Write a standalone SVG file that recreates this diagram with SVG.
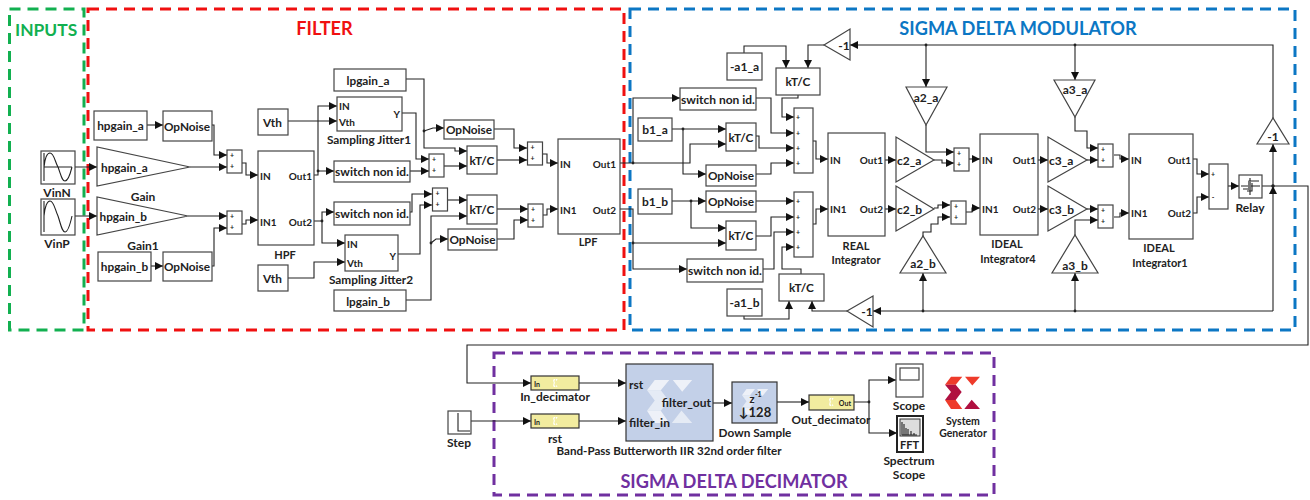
<svg xmlns="http://www.w3.org/2000/svg" width="1310" height="500" viewBox="0 0 1310 500">
<style>
text{font-family:Lato,"Liberation Sans",sans-serif;font-weight:700;font-size:12px;fill:#222}
.m{text-anchor:middle}.e{text-anchor:end}
.b{fill:#fff;stroke:#444;stroke-width:1.2}
.w{fill:none;stroke:#222;stroke-width:1.1}
.w path{marker-end:url(#a)}
.p{fill:none;stroke:#222;stroke-width:1.1}
.s{font-size:7px}
.f10{font-size:10px}
.f11{font-size:11px}
.f12{font-size:11.8px}
.t{font-size:18.2px}
.y{fill:#f2ec9f;stroke:#333;stroke-width:1.2}
.r{fill:none;stroke-width:3;stroke-dasharray:11 7}
.d{fill:#222}
.sb{fill:#c3d0e8;stroke:#333;stroke-width:1.2}
</style>
<defs>
<marker id="a" markerUnits="userSpaceOnUse" markerWidth="9" markerHeight="8" refX="8" refY="4" orient="auto"><path d="M0 0L8 4L0 8Z" fill="#111"/></marker>
<g id="lg"><path d="M0 7.7L6 0H17.3L10.7 7.7ZM0 23H10.7L17.3 32H6ZM20 0H35L27.3 8.7Z"/><path d="M0 7.7H10.700L16.700 15.300H6ZM0 23L6 15.300H16.700L10.700 23ZM19.300 32L26.700 22.700L35 32Z" opacity=".8"/></g>
<g id="sum"><rect class="b" width="15" height="23"/><text class="s m" x="5" y="8">+</text><text class="s m" x="5" y="19">+</text></g>
</defs>
<rect width="1310" height="500" fill="#fff"/>

<g id="regions">
<rect class="r" x="9.500" y="9" width="74.500" height="321" stroke="#12b050"/>
<rect class="r" x="88" y="9" width="536" height="321" stroke="#f01010"/>
<rect class="r" x="630" y="9" width="665" height="321" stroke="#0c77c4"/>
<rect class="r" x="494" y="353" width="500" height="142" stroke="#7030a0"/>
<text class="t" x="15" y="36" style="fill:#12b050;font-size:17.400px">INPUTS</text>
<text class="t m" x="324.500" y="35" style="fill:#f01010">FILTER</text>
<text class="t m" x="1018" y="35" style="fill:#0c77c4">SIGMA DELTA MODULATOR</text>
<text class="t m" x="734" y="488" style="fill:#7030a0">SIGMA DELTA DECIMATOR</text>
</g>

<g id="connectors">
<g class="w">
<path d="M147 125H163"/>
<path d="M212 125H214V155H227"/>
<path d="M190 167H227"/>
<path d="M58 167H97"/>
<path d="M44 216H97"/>
<path d="M188 216H227"/>
<path d="M151 266H163"/>
<path d="M212 266H214V228H227"/>
<path d="M242 163H246V175H258"/>
<path d="M242 224H246V220H258"/>
<path d="M314 175H318V171H334"/>
<path d="M318 171V106H337"/>
<path d="M288 121H337"/>
<path d="M314 221H322V212H334"/>
<path d="M322 221V243H345"/>
<path d="M288 278H314V262H345"/>
<path d="M406 79H424V148H455V151H467"/>
<path d="M424 131L433 128H444"/>
<path d="M402 113H416V159H429"/>
<path d="M410 171H429"/>
<path d="M444 166H467"/>
<path d="M494 129H514V148H527"/>
<path d="M497 160H527"/>
<path d="M543 154H547V163H558"/>
<path d="M410 212H412V194H432"/>
<path d="M398 254H420V205H432"/>
<path d="M448 200H467"/>
<path d="M406 300H431V216H467"/>
<path d="M431 243L436 239H448"/>
<path d="M497 209H528"/>
<path d="M497 239H514V220H528"/>
<path d="M543 215H547V209H558"/>
<path d="M620 163H690V144H726"/>
<path d="M633 163V98H680"/>
<path d="M672 129H726"/>
<path d="M683 129V174H706"/>
<path d="M620 209H633V269H687"/>
<path d="M633 243H726"/>
<path d="M672 201H706"/>
<path d="M691 201V228H726"/>
<path d="M756 98H771V133H794"/>
<path d="M798 95V98H782V117H794"/>
<path d="M756 136H759V148H794"/>
<path d="M756 174H771V163H794"/>
<path d="M756 201H794"/>
<path d="M756 236H771V217H794"/>
<path d="M763 269H774V232H794"/>
<path d="M801 274V269H782V247H794"/>
<path d="M813 141H816V159H828"/>
<path d="M813 224H816V209H828"/>
<path d="M744 53V46H786V68"/>
<path d="M824 45H808V68"/>
<path d="M744 316V319H789V301"/>
<path d="M847 311H812V301"/>
<path d="M885 160H896"/>
<path d="M885 209H896"/>
<path d="M1273 118V45H850"/>
<path d="M926 45V87"/>
<path d="M926 125V152H954"/>
<path d="M934 160H942V163H954"/>
<path d="M934 208H938V205H950"/>
<path d="M923 236V232H931V224H938V217H950"/>
<path d="M1273 186V144"/>
<path d="M1273 311V186"/>
<path d="M1273 311H873"/>
<path d="M923 311V273"/>
<path d="M969 159H980"/>
<path d="M966 212H972V208H980"/>
<path d="M1038 160H1048"/>
<path d="M1038 209H1048"/>
<path d="M1075 45V80"/>
<path d="M1075 117V131H1087V148H1098"/>
<path d="M1087 160H1098"/>
<path d="M1087 209H1098"/>
<path d="M1075 235V220H1098"/>
<path d="M1075 311V273"/>
<path d="M1114 155H1120V159H1129"/>
<path d="M1114 217H1120V213H1129"/>
<path d="M1193 159H1197V174H1209"/>
<path d="M1193 213H1197V197H1209"/>
<path d="M1228 186H1239"/>
<path d="M1262 186H1308V345H467V383H531"/>
<path d="M579 383H626"/>
<path d="M579 421H626"/>
<path d="M471 421H531"/>
<path d="M713 403H732"/>
<path d="M777 402H809"/>
<path d="M854 402H869V380H896"/>
<path d="M869 402V433H897"/>
</g>
<g class="d">
<circle cx="633" cy="163" r="1.400"/><circle cx="683" cy="129" r="1.400"/><circle cx="633" cy="243" r="1.400"/><circle cx="691" cy="201" r="1.400"/><circle cx="926" cy="45" r="1.400"/><circle cx="1075" cy="45" r="1.400"/><circle cx="923" cy="311" r="1.400"/><circle cx="1075" cy="311" r="1.400"/><circle cx="1273" cy="186" r="1.800"/><circle cx="869" cy="402" r="1.400"/><circle cx="318" cy="171" r="1.400"/><circle cx="322" cy="221" r="1.400"/><circle cx="424" cy="131" r="1.400"/><circle cx="431" cy="243" r="1.400"/>
</g>
</g>

<g id="VinN"><rect class="b" x="41" y="151" width="34" height="33"/><path class="p" d="M44 153V181M44 167H72M44 167C45 158 47 153 50 153C54 153 55 162 58 167C61 175 62 181 65 181C68 181 70 175 72 167"/><text class="m" x="57" y="197">VinN</text></g>
<g id="VinP"><rect class="b" x="41" y="199" width="34" height="36"/><path class="p" d="M44 201V232M44 216C45 207 47 201 50 201C54 201 55 210 58 216C61 225 62 232 65 232C68 232 70 225 72 216"/><text class="m" x="57" y="248">VinP</text></g>
<g id="hpgain_a_c"><rect class="b" x="94" y="111" width="53" height="29"/><text class="m f12" x="120.500" y="130">hpgain_a</text></g>
<g id="OpNoise1"><rect class="b" x="163" y="111" width="49" height="30"/><text class="m f12" x="187" y="130.500">OpNoise</text></g>
<g id="Gain"><path class="b" d="M97 147V186L190 167Z"/><text class="f12" x="101" y="172">hpgain_a</text><text class="m" x="143" y="201">Gain</text></g>
<g id="Gain1"><path class="b" d="M97 197V235L188 216Z"/><text class="f12" x="99.500" y="221">hpgain_b</text><text class="m" x="143" y="250">Gain1</text></g>
<g id="hpgain_b_c"><rect class="b" x="98" y="252" width="53" height="29"/><text class="m f12" x="124.500" y="271">hpgain_b</text></g>
<g id="OpNoise2"><rect class="b" x="163" y="252" width="49" height="29"/><text class="m f12" x="187" y="271">OpNoise</text></g>
<use id="Sum1" href="#sum" x="227" y="150"/>
<use id="Sum2" href="#sum" x="227" y="211"/>
<g id="HPF"><rect class="b" x="258" y="151" width="56" height="94"/><text class="f10" x="260" y="180">IN</text><text class="f10" x="260" y="226">IN1</text><text class="e f10" x="312" y="180">Out1</text><text class="e f10" x="312" y="226">Out2</text><text class="m f11" x="285" y="259">HPF</text></g>
<g id="Vth1"><rect class="b" x="258" y="109" width="30" height="26"/><text class="m f12" x="272.500" y="127">Vth</text></g>
<g id="Vth2"><rect class="b" x="258" y="265" width="30" height="26"/><text class="m f12" x="272.500" y="283">Vth</text></g>
<g id="lpgain_a"><rect class="b" x="334" y="69" width="72" height="22"/><text class="m f12" x="368" y="85">lpgain_a</text></g>
<g id="Jitter1"><rect class="b" x="337" y="97" width="65" height="34"/><text class="f10" x="339" y="110">IN</text><text class="f10" x="339" y="126">Vth</text><text class="e f10" x="400" y="118">Y</text><text class="m f12" x="369" y="144">Sampling Jitter1</text></g>
<g id="Switch1"><rect class="b" x="334" y="161" width="76" height="21"/><text class="m" x="372" y="176">switch non id.</text></g>
<use id="Sum3" href="#sum" x="429" y="154"/>
<g id="KTC1"><rect class="b" x="467" y="146" width="30" height="28"/><text class="m f12" x="482" y="165">kT/C</text></g>
<g id="OpNoise3"><rect class="b" x="444" y="120" width="50" height="19"/><text class="m f12" x="469" y="134">OpNoise</text></g>
<use id="Sum4" href="#sum" x="527.500" y="142"/>
<g id="LPF"><rect class="b" x="558" y="139" width="62" height="95"/><text class="f10" x="560" y="168">IN</text><text class="f10" x="560" y="214">IN1</text><text class="e f10" x="616" y="168">Out1</text><text class="e f10" x="616" y="214">Out2</text><text class="m f11" x="588" y="246">LPF</text></g>
<g id="Switch2"><rect class="b" x="334" y="202" width="76" height="23"/><text class="m" x="372" y="218">switch non id.</text></g>
<use id="Sum5" href="#sum" x="432.500" y="188"/>
<g id="KTC2"><rect class="b" x="467" y="195" width="30" height="29"/><text class="m f12" x="482" y="214">kT/C</text></g>
<use id="Sum6" href="#sum" x="528" y="204"/>
<g id="OpNoise4"><rect class="b" x="448" y="229" width="49" height="21"/><text class="m f12" x="472.500" y="244">OpNoise</text></g>
<g id="Jitter2"><rect class="b" x="345" y="235" width="53" height="36"/><text class="f10" x="347" y="248">IN</text><text class="f10" x="347" y="267">Vth</text><text class="e f10" x="396" y="260">Y</text><text class="m f12" x="371" y="284">Sampling Jitter2</text></g>
<g id="lpgain_b"><rect class="b" x="334" y="290" width="72" height="21"/><text class="m f12" x="368" y="305.500">lpgain_b</text></g>

<g id="a1_a"><rect class="b" x="727" y="53" width="35" height="27"/><text class="m" x="744.500" y="71">-a1_a</text></g>
<g id="KTC3"><rect class="b" x="776" y="68" width="44" height="27"/><text class="m f12" x="798" y="86">kT/C</text></g>
<g id="NegTop"><path class="b" d="M824 45L850 29V60Z"/><text class="m" x="844" y="50">-1</text></g>
<g id="Switch3"><rect class="b" x="680" y="88" width="76" height="22"/><text class="m" x="718" y="104">switch non id.</text></g>
<g id="b1_a"><rect class="b" x="638" y="118" width="34" height="23"/><text class="m" x="655" y="134">b1_a</text></g>
<g id="KTC4"><rect class="b" x="726" y="123" width="30" height="28"/><text class="m f12" x="741" y="142">kT/C</text></g>
<g id="OpNoise5"><rect class="b" x="706" y="165" width="50" height="21"/><text class="m f12" x="731" y="180">OpNoise</text></g>
<g id="SumA"><rect class="b" x="794" y="108" width="19" height="65"/><text class="s m" x="798" y="120">+</text><text class="s m" x="798" y="136">+</text><text class="s m" x="798" y="151">+</text><text class="s m" x="798" y="166">+</text></g>
<g id="SumB"><rect class="b" x="794" y="192" width="19" height="65"/><text class="s m" x="798" y="204">+</text><text class="s m" x="798" y="220">+</text><text class="s m" x="798" y="235">+</text><text class="s m" x="798" y="250">+</text></g>
<g id="REAL"><rect class="b" x="828" y="133" width="57" height="103"/><text class="f10" x="830" y="164">IN</text><text class="f10" x="830" y="213">IN1</text><text class="e f10" x="883" y="164">Out1</text><text class="e f10" x="883" y="213">Out2</text><text class="m f11" x="856" y="250">REAL</text><text class="m f11" x="856" y="264">Integrator</text></g>
<g id="c2_a"><path class="b" d="M896 137V182L934 160Z"/><text x="897" y="165">c2_a</text></g>
<g id="c2_b"><path class="b" d="M896 186V231L934 209Z"/><text x="897" y="214">c2_b</text></g>
<g id="a2_a"><path class="b" d="M906 87H947L926 125Z"/><text class="m" x="926" y="102">a2_a</text></g>
<g id="a2_b"><path class="b" d="M900 273H946L923 236Z"/><text class="m" x="923" y="268">a2_b</text></g>
<use id="Sum7" href="#sum" x="954" y="148"/>
<use id="Sum8" href="#sum" x="951" y="201"/>
<g id="b1_b"><rect class="b" x="638" y="189" width="34" height="25"/><text class="m" x="655" y="206">b1_b</text></g>
<g id="OpNoise6"><rect class="b" x="706" y="191" width="50" height="21"/><text class="m f12" x="731" y="206">OpNoise</text></g>
<g id="KTC5"><rect class="b" x="726" y="221" width="30" height="29"/><text class="m f12" x="741" y="240">kT/C</text></g>
<g id="Switch4"><rect class="b" x="687" y="259" width="76" height="23"/><text class="m" x="725" y="275">switch non id.</text></g>
<g id="KTC6"><rect class="b" x="779" y="274" width="45" height="27"/><text class="m f12" x="801.500" y="292">kT/C</text></g>
<g id="a1_b"><rect class="b" x="727" y="289" width="35" height="27"/><text class="m" x="744.500" y="307">-a1_b</text></g>
<g id="NegBottom"><path class="b" d="M847 311L873 296V327Z"/><text class="m" x="867" y="316">-1</text></g>

<g id="Ideal4"><rect class="b" x="980" y="134" width="58" height="101"/><text class="f10" x="982" y="164">IN</text><text class="f10" x="982" y="213">IN1</text><text class="e f10" x="1036" y="164">Out1</text><text class="e f10" x="1036" y="213">Out2</text><text class="m f11" x="1007" y="248">IDEAL</text><text class="m f11" x="1008" y="263">Integrator4</text></g>
<g id="c3_a"><path class="b" d="M1048 137V182L1087 160Z"/><text x="1049" y="165">c3_a</text></g>
<g id="c3_b"><path class="b" d="M1048 186V231L1087 209Z"/><text x="1049" y="214">c3_b</text></g>
<g id="a3_a"><path class="b" d="M1054 80H1095L1075 117Z"/><text class="m" x="1075" y="94">a3_a</text></g>
<g id="a3_b"><path class="b" d="M1052 273H1098L1075 235Z"/><text class="m" x="1075" y="270">a3_b</text></g>
<use id="Sum9" href="#sum" x="1098" y="144"/>
<use id="Sum10" href="#sum" x="1098" y="205"/>
<g id="Ideal1"><rect class="b" x="1129" y="134" width="64" height="105"/><text class="f10" x="1131" y="164">IN</text><text class="f10" x="1131" y="217">IN1</text><text class="e f10" x="1191" y="164">Out1</text><text class="e f10" x="1191" y="217">Out2</text><text class="m f11" x="1159" y="252">IDEAL</text><text class="m f11" x="1160" y="267">Integrator1</text></g>
<g id="SumDiff"><rect class="b" x="1209" y="164" width="19" height="45"/><text class="s m" x="1213" y="177">+</text><text class="s m" x="1213" y="200">-</text></g>
<g id="Relay"><rect class="b" x="1239" y="175" width="23" height="23"/><path class="p" d="M1250 178V195M1241 186H1260M1243 189H1249V181H1259M1247 191H1252V183"/><rect x="1248" y="181" width="3" height="9" fill="#777"/><text class="m" x="1250" y="212">Relay</text></g>
<g id="NegRight"><path class="b" d="M1257 144H1289L1273 118Z"/><text class="m" x="1273" y="141">-1</text></g>

<g id="Step"><rect class="b" x="448" y="411" width="23" height="23"/><path class="p" d="M458 413V431H470"/><text class="m" x="459" y="447">Step</text></g>
<g id="In_decimator"><rect class="y" x="531" y="376" width="48" height="14"/><use href="#lg" transform="translate(553 379) scale(.130 .250)" fill="#fff"/><text class="s" x="534" y="387">In</text><text class="m" x="555" y="401">In_decimator</text></g>
<g id="rst"><rect class="y" x="531" y="414" width="48" height="14"/><use href="#lg" transform="translate(553 417) scale(.130 .250)" fill="#fff"/><text class="s" x="534" y="425">In</text><text class="m" x="555" y="443">rst</text></g>
<g id="Filter"><rect class="sb" x="626" y="364" width="87" height="77"/><use href="#lg" transform="translate(647 380) scale(1.290 1.340)" fill="#eef1f8"/><text x="629" y="389">rst</text><text x="629" y="427">filter_in</text><text class="e" x="711" y="407">filter_out</text><text class="m" x="669" y="455" style="font-size:11.600px">Band-Pass Butterworth IIR 32nd order filter</text></g>
<g id="DownSample"><rect class="sb" x="732" y="382" width="45" height="41"/><use href="#lg" transform="translate(742 389) scale(.750 .800)" fill="#eef1f8"/><text class="m f11" x="752" y="403">z</text><text class="s" x="755" y="397">-1</text><text class="m" x="755" y="417" style="font-size:13px">↓128</text><text class="m f12" x="755" y="437">Down Sample</text></g>
<g id="Out_decimator"><rect class="y" x="809" y="395" width="45" height="15"/><use href="#lg" transform="translate(829 398) scale(.130 .250)" fill="#fff"/><text class="e s" x="851" y="406">Out</text><text class="m f12" x="831" y="424">Out_decimator</text></g>
<g id="Scope"><rect class="b" x="896" y="364" width="27" height="33"/><rect class="b" x="900" y="368" width="19" height="12"/><text class="m" x="909" y="410">Scope</text></g>
<g id="Spectrum"><rect class="b" x="897" y="416" width="26" height="36" style="stroke-width:2;stroke:#222"/><rect x="900" y="419" width="20" height="17" fill="#ddd" stroke="#333"/><path class="p" d="M902 435V422M904 435V424M906 435V428M908 435V429M911 435V431M914 435V433M917 435H902"/><text x="900" y="449" style="font-size:11px">FFT</text><text class="m" x="909" y="465">Spectrum</text><text class="m" x="909" y="479">Scope</text></g>
<g id="SystemGenerator"><path d="M945 384.700L951 376.700H962.300L955.700 384.700ZM945 400L955.700 400L962.300 409H951ZM965 376.700H980L972.300 385.400Z" fill="#ee3b2b"/><path d="M945 384.700H955.700L961.700 392H951ZM945 400L951 392H961.700L955.700 400ZM964.300 409L971.700 399.700L980 409Z" fill="#b01040"/><text class="m" x="963" y="425" style="font-size:10.500px">System</text><text class="m" x="963" y="437" style="font-size:10.500px">Generator</text></g>
</svg>
